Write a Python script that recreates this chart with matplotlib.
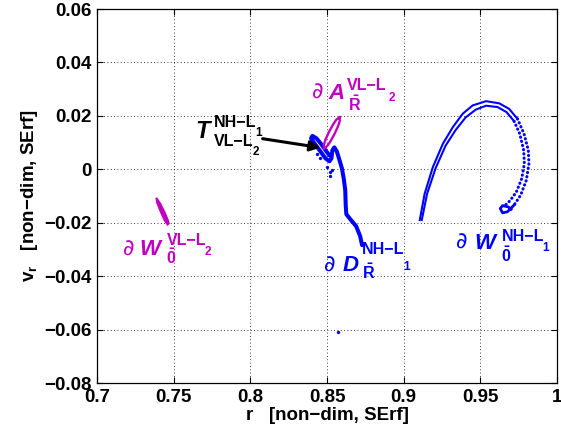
import matplotlib
matplotlib.use("Agg")
import matplotlib.pyplot as plt

plt.rcParams['font.family'] = ['Liberation Sans', 'DejaVu Sans']
plt.rcParams['font.weight'] = 'bold'
plt.rcParams['mathtext.fontset'] = 'custom'
plt.rcParams['mathtext.bf'] = 'Liberation Sans:bold'
plt.rcParams['mathtext.rm'] = 'Liberation Sans'

BLUE = '#0000ff'
MAG = '#c000c0'

# ---- data: (r, v_r) in non-dimensional units ----
# dW^{NH-L1}_0 : outer and inner strands
wnh_outer_r = [0.9105, 0.9137, 0.9191, 0.9256, 0.9321, 0.9385, 0.9450, 0.9537,
               0.9623, 0.9688, 0.9742]
wnh_outer_v = [-0.0190, -0.0091, 0.0009, 0.0096, 0.0158, 0.0208, 0.0239, 0.0255,
               0.0247, 0.0226, 0.0189]
wnh_outer_dot_r = [0.9742, 0.9785, 0.9813, 0.9817, 0.9800, 0.9763, 0.9720]
wnh_outer_dot_v = [0.0189, 0.0133, 0.0071, 0.0021, -0.0041, -0.0097, -0.0134]
wnh_hook_r = [0.9720, 0.9677, 0.9645, 0.9630, 0.9645, 0.9683, 0.9700]
wnh_hook_v = [-0.0134, -0.0159, -0.0163, -0.0147, -0.0136, -0.0141, -0.0150]

wnh_inner_r = [0.9118, 0.9153, 0.9209, 0.9274, 0.9339, 0.9404, 0.9469, 0.9537,
               0.9612, 0.9671, 0.9720]
wnh_inner_v = [-0.0190, -0.0091, 0.0005, 0.0089, 0.0147, 0.0194, 0.0223, 0.0238,
               0.0233, 0.0214, 0.0180]
wnh_inner_dot_r = [0.9720, 0.9757, 0.9783, 0.9787, 0.9770, 0.9735, 0.9693, 0.9663]
wnh_inner_dot_v = [0.0180, 0.0133, 0.0071, 0.0021, -0.0035, -0.0085, -0.0118, -0.0134]

# dD^{NH-L1}_R
d_r = [0.8729, 0.8716, 0.8690, 0.8652, 0.8626, 0.8622, 0.8619, 0.8609, 0.8597,
       0.8580, 0.8564, 0.8548, 0.8535, 0.8529, 0.8516, 0.8490, 0.8457, 0.8418,
       0.8396, 0.8405, 0.8431, 0.8464, 0.8496, 0.8516]
d_v = [-0.0284, -0.0250, -0.0213, -0.0187, -0.0168, -0.0134, -0.0078, -0.0034,
       0.0004, 0.0037, 0.0067, 0.0082, 0.0071, 0.0041, 0.0030, 0.0041, 0.0067,
       0.0097, 0.0116, 0.0125, 0.0116, 0.0093, 0.0067, 0.0052]
d_pts_r = [0.8436, 0.8457, 0.8501, 0.8517, 0.8533, 0.8522, 0.8570]
d_pts_v = [0.0059, 0.0044, 0.0009, -0.0010, -0.0004, -0.0026, -0.0610]

# dA^{VL-L2}_R
a_r = [0.8583, 0.8583, 0.8572, 0.8548, 0.8520, 0.8500, 0.8479, 0.8480, 0.8490,
       0.8514, 0.8542, 0.8561, 0.8583]
a_v = [0.0195, 0.0180, 0.0161, 0.0131, 0.0102, 0.0086, 0.0077, 0.0092, 0.0111,
       0.0141, 0.0170, 0.0186, 0.0195]

# dW^{VL-L2}_0
wvl_r = [0.7387, 0.7412, 0.7440, 0.7462, 0.7468, 0.7460, 0.7440, 0.7415, 0.7392, 0.7387]
wvl_v = [-0.0107, -0.0128, -0.0160, -0.0190, -0.0203, -0.0207, -0.0190, -0.0158,
         -0.0125, -0.0107]

# tangency point T and arrow tail
t_tip = (0.8457, 0.0081)
t_tail = (0.8080, 0.01145)

xticks = [0.7, 0.75, 0.8, 0.85, 0.9, 0.95, 1.0]
xticklabels = ['0.7', '0.75', '0.8', '0.85', '0.9', '0.95', '1']
yticks = [-0.08, -0.06, -0.04, -0.02, 0.0, 0.02, 0.04, 0.06]
yticklabels = ['\u22120.08', '\u22120.06', '\u22120.04', '\u22120.02', '0',
               '0.02', '0.04', '0.06']

fig = plt.figure(figsize=(5.61, 4.41), dpi=100)
ax = fig.add_axes([97 / 561, 1 - 383 / 441, 460 / 561, 374 / 441])

# dW NH strands
dot_style = dict(color=BLUE, lw=2.2, linestyle=(0, (0.1, 1.3)), dash_capstyle='round')
ax.plot(wnh_outer_r, wnh_outer_v, color=BLUE, lw=1.5)
ax.plot(wnh_inner_r, wnh_inner_v, color=BLUE, lw=1.5)
ax.plot(wnh_outer_dot_r, wnh_outer_dot_v, **dot_style)
ax.plot(wnh_inner_dot_r, wnh_inner_dot_v, **dot_style)
ax.plot(wnh_hook_r, wnh_hook_v, color=BLUE, lw=2.0)

# dD
ax.plot(d_r, d_v, color=BLUE, lw=2.9, solid_capstyle='round', solid_joinstyle='round')
ax.plot(d_pts_r, d_pts_v, 'o', color=BLUE, ms=2.4, mew=0)

# dA ellipse
ax.plot(a_r, a_v, color=MAG, lw=1.7)

# dW VL blob
ax.fill(wvl_r, wvl_v, color=MAG, lw=1.4)

# arrow to T
ax.annotate('', xy=t_tip, xytext=t_tail,
            arrowprops=dict(arrowstyle='-|>', color='k', lw=2.2,
                            mutation_scale=15, shrinkA=0, shrinkB=0))

ax.set_xlim(0.7, 1.0)
ax.set_ylim(-0.08, 0.06)
ax.set_xticks(xticks)
ax.set_xticklabels(xticklabels)
ax.set_yticks(yticks)
ax.set_yticklabels(yticklabels)
ax.tick_params(direction='in', length=4, width=0.8, top=True, right=True,
               labelsize=13.5, pad=4)
for lab in ax.get_xticklabels() + ax.get_yticklabels():
    lab.set_fontweight('bold')
for s in ax.spines.values():
    s.set_linewidth(0.9)
ax.grid(True, color='k', linestyle=(0, (1, 3)), lw=0.6)
ax.set_axisbelow(True)

ax.set_xlabel('r   [non\u2212dim, SErf]', fontsize=13.5, fontweight='bold', labelpad=1)
ax.set_ylabel(r'$\mathbf{v_r}$   [non$\mathbf{-}$dim, SErf]', fontsize=13.5,
              fontweight='bold', labelpad=3)


def lbl(x, y, s, size, color, style='normal'):
    ax.text(x, y, s, fontsize=size, color=color, fontweight='bold',
            fontstyle=style, ha='left', va='center')


def dlbl(x, y, size, color):
    ax.text(x, y, '\u2202', fontsize=size, color=color, fontweight='normal',
            ha='left', va='center', family=['DejaVu Sans'])


BIG, SUP, SUB = 16, 11.5, 8.5

# T label
lbl(0.7640, 0.0142, 'T', BIG + 1, 'k', 'italic')
lbl(0.7764, 0.0174, 'NH\u2212L', SUP, 'k')
lbl(0.8030, 0.0136, '1', SUB, 'k')
lbl(0.7764, 0.0104, 'VL\u2212L', SUP, 'k')
lbl(0.8017, 0.0063, '2', SUB, 'k')

# dA label
dlbl(0.8405, 0.0287, BIG, MAG)
lbl(0.8509, 0.0284, 'A', BIG, MAG, 'italic')
lbl(0.8632, 0.0313, 'VL\u2212L', SUP, MAG)
lbl(0.8905, 0.0265, '2', SUB, MAG)
lbl(0.8636, 0.0244, r'$\mathbf{\bar{R}}$', SUP, MAG)

# dD label
dlbl(0.8483, -0.0362, BIG, BLUE)
lbl(0.8600, -0.0362, 'D', BIG, BLUE, 'italic')
lbl(0.8729, -0.0302, 'NH\u2212L', SUP, BLUE)
lbl(0.8995, -0.0366, '1', SUB, BLUE)
lbl(0.8726, -0.0384, r'$\mathbf{\bar{R}}$', SUP, BLUE)

# dW NH label
dlbl(0.9338, -0.0276, BIG, BLUE)
lbl(0.9461, -0.0276, 'W', BIG, BLUE, 'italic')
lbl(0.9642, -0.0250, 'NH\u2212L', SUP, BLUE)
lbl(0.9905, -0.0295, '1', SUB, BLUE)
lbl(0.9636, -0.0321, r'$\mathbf{\bar{0}}$', SUP, BLUE)

# dW VL label
dlbl(0.7168, -0.0302, BIG, MAG)
lbl(0.7279, -0.0302, 'W', BIG, MAG, 'italic')
lbl(0.7453, -0.0265, 'VL\u2212L', SUP, MAG)
lbl(0.7705, -0.0310, '2', SUB, MAG)
lbl(0.7450, -0.0328, r'$\mathbf{\bar{0}}$', SUP, MAG)

fig.savefig('out.png', dpi=100)
